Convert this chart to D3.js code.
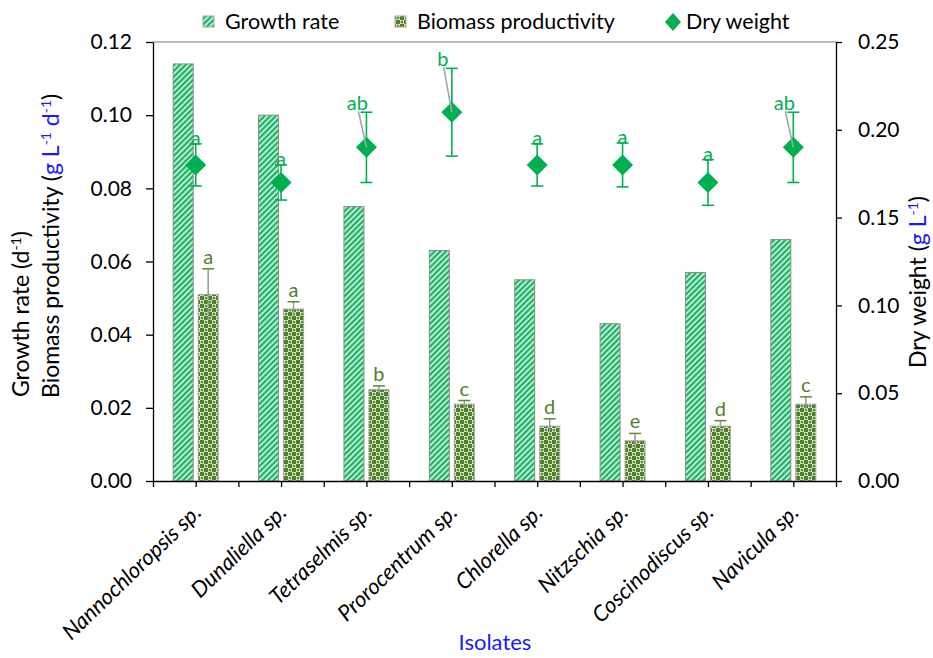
<!DOCTYPE html>
<html>
<head>
<meta charset="utf-8">
<script src="https://cdn.jsdelivr.net/npm/d3@7"></script>
<style>
  html, body { margin: 0; padding: 0; background: #fff; }
  svg { display: block; font-family: Lato, "Open Sans", sans-serif; }
</style>
</head>
<body>
<svg id="chart" width="933" height="658"></svg>
<script>
// Isolates and measured values
const categories = ["Nannochloropsis sp.", "Dunaliella sp.", "Tetraselmis sp.", "Prorocentrum sp.",
                    "Chlorella sp.", "Nitzschia sp.", "Coscinodiscus sp.", "Navicula sp."];
const growthRate = [0.114, 0.100, 0.075, 0.063, 0.055, 0.043, 0.057, 0.066];
const biomass = [0.051, 0.047, 0.025, 0.021, 0.015, 0.011, 0.015, 0.021];
const biomassErr = [0.007, 0.002, 0.001, 0.001, 0.002, 0.002, 0.0015, 0.002];
const biomassLetters = ["a", "a", "b", "c", "d", "e", "d", "c"];
const dryWeight = [0.18, 0.17, 0.19, 0.21, 0.18, 0.18, 0.17, 0.19];
const dryErr = [0.012, 0.010, 0.020, 0.025, 0.012, 0.0125, 0.013, 0.020];
const dryLetters = ["a", "a", "ab", "b", "a", "a", "a", "ab"];
const leftTicks = [0, 0.02, 0.04, 0.06, 0.08, 0.10, 0.12];
const rightTicks = [0, 0.05, 0.10, 0.15, 0.20, 0.25];
const seriesNames = ["Growth rate", "Biomass productivity", "Dry weight"];

const svg = d3.select("#chart");
const plot = { left: 153, right: 836, top: 42, bottom: 481 };

const GREEN = "#00b050";
const OLIVE = "#4f7f2b";
const BLUE = "#1a1aff";

// Fill patterns
const defs = svg.append("defs");
const stripes = defs.append("pattern")
  .attr("id", "stripes").attr("patternUnits", "userSpaceOnUse")
  .attr("width", 4).attr("height", 4)
  .attr("patternTransform", "rotate(45)");
stripes.append("rect").attr("width", 4).attr("height", 4).attr("fill", "#c8f1d8");
stripes.append("rect").attr("width", 2.2).attr("height", 4).attr("fill", "#1cb164");

const dots = defs.append("pattern")
  .attr("id", "dots").attr("patternUnits", "userSpaceOnUse")
  .attr("width", 8).attr("height", 8);
dots.append("rect").attr("width", 8).attr("height", 8).attr("fill", "#e9f6de");
dots.append("rect").attr("width", 4).attr("height", 4).attr("fill", OLIVE);
dots.append("rect").attr("x", 4).attr("y", 4).attr("width", 4).attr("height", 4).attr("fill", OLIVE);
dots.append("circle").attr("cx", 6).attr("cy", 2).attr("r", 1.5).attr("fill", "#5d8f36");
dots.append("circle").attr("cx", 2).attr("cy", 6).attr("r", 1.5).attr("fill", "#5d8f36");

// Scales
const x = d3.scaleBand().domain(categories).range([plot.left, plot.right]);
const inner = d3.scaleBand().domain(["growth", "biomass"]).range([-22.5, 22.5]).paddingInner(0.2);
const yL = d3.scaleLinear().domain([0, 0.12]).range([plot.bottom, plot.top]);
const yR = d3.scaleLinear().domain([0, 0.25]).range([plot.bottom, plot.top]);
const xHalf = d3.scaleLinear().domain([0, categories.length]).range([plot.left, plot.right]);
const cx = c => x(c) + x.bandwidth() / 2;

// Top frame line
svg.append("line")
  .attr("x1", plot.left).attr("x2", plot.right)
  .attr("y1", plot.top).attr("y2", plot.top)
  .attr("stroke", "#a6a6a6").attr("stroke-width", 1.5);

// Growth rate bars
svg.append("g").selectAll("rect").data(categories).join("rect")
  .attr("x", (c) => cx(c) + inner("growth"))
  .attr("width", inner.bandwidth())
  .attr("y", (c, i) => yL(growthRate[i]))
  .attr("height", (c, i) => yL(0) - yL(growthRate[i]))
  .attr("fill", "url(#stripes)")
  .attr("stroke", "#8c8c8c").attr("stroke-width", 1);

// Biomass productivity bars
svg.append("g").selectAll("rect").data(categories).join("rect")
  .attr("x", (c) => cx(c) + inner("biomass"))
  .attr("width", inner.bandwidth())
  .attr("y", (c, i) => yL(biomass[i]))
  .attr("height", (c, i) => yL(0) - yL(biomass[i]))
  .attr("fill", "url(#dots)")
  .attr("stroke", "#a6a6a6").attr("stroke-width", 1);

// Biomass error bars and letters
const bErr = svg.append("g");
categories.forEach((c, i) => {
  const bx = cx(c) + inner("biomass") + inner.bandwidth() / 2;
  const top = yL(biomass[i] + biomassErr[i]);
  const bot = yL(biomass[i] - biomassErr[i]);
  bErr.append("line").attr("x1", bx).attr("x2", bx).attr("y1", top).attr("y2", bot)
    .attr("stroke", "#9a9a9a").attr("stroke-width", 1.5);
  bErr.append("line").attr("x1", bx - 6).attr("x2", bx + 6).attr("y1", top).attr("y2", top)
    .attr("stroke", "#5a8a32").attr("stroke-width", 1.5);
  bErr.append("text").attr("x", bx).attr("y", top - 5)
    .attr("text-anchor", "middle").attr("font-size", 20).attr("fill", OLIVE)
    .text(biomassLetters[i]);
});

// Dry weight markers, error bars and letters
const dw = svg.append("g");
categories.forEach((c, i) => {
  const px = cx(c);
  const top = yR(dryWeight[i] + dryErr[i]);
  const bot = yR(dryWeight[i] - dryErr[i]);
  dw.append("line").attr("x1", px).attr("x2", px).attr("y1", top).attr("y2", bot)
    .attr("stroke", GREEN).attr("stroke-width", 1.6);
  [top, bot].forEach(v => dw.append("line")
    .attr("x1", px - 6).attr("x2", px + 6).attr("y1", v).attr("y2", v)
    .attr("stroke", GREEN).attr("stroke-width", 1.6));
  if (dryLetters[i] === "a") {
    dw.append("text").attr("x", px).attr("y", top + 1)
      .attr("text-anchor", "middle").attr("font-size", 20).attr("fill", GREEN).text(dryLetters[i]);
  }
});
// Diamonds drawn above the error bars
dw.append("g").selectAll("path").data(categories).join("path")
  .attr("transform", (c, i) => `translate(${cx(c)},${yR(dryWeight[i])})`)
  .attr("d", "M0,-10.5L10.5,0L0,10.5L-10.5,0Z")
  .attr("fill", GREEN);
// Shifted letters with leader lines
categories.forEach((c, i) => {
  const lab = dryLetters[i];
  if (lab === "a") return;
  const px = cx(c);
  const py = yR(dryWeight[i]);
  const top = yR(dryWeight[i] + dryErr[i]);
  const lx = px - 9, ly = top - 2;
  dw.append("line").attr("x1", lx + 1).attr("y1", ly + 1).attr("x2", px).attr("y2", py)
    .attr("stroke", "#a6a6a6").attr("stroke-width", 1.6);
  dw.append("text").attr("x", lx).attr("y", ly)
    .attr("text-anchor", "middle").attr("font-size", 20).attr("fill", GREEN).text(lab);
});

// Axes
const axisStyle = g => {
  g.select(".domain").attr("stroke", "#000").attr("stroke-width", 1.3);
  g.selectAll(".tick line").attr("stroke", "#000").attr("stroke-width", 1.3);
  g.selectAll(".tick text").attr("font-size", 21).attr("fill", "#000")
    .attr("font-family", "Lato, sans-serif");
};
svg.append("g").attr("transform", `translate(${plot.left},0)`)
  .call(d3.axisLeft(yL).tickValues(leftTicks).tickFormat(d3.format(".2f")).tickSize(7).tickSizeOuter(0).tickPadding(14))
  .call(axisStyle);
svg.append("g").attr("transform", `translate(${plot.right},0)`)
  .call(d3.axisRight(yR).tickValues(rightTicks).tickFormat(d3.format(".2f")).tickSize(6).tickSizeOuter(0).tickPadding(16))
  .call(axisStyle);
svg.append("g").attr("transform", `translate(0,${plot.bottom})`)
  .call(d3.axisBottom(xHalf).tickValues(d3.range(0, categories.length + 0.5, 0.5)).tickFormat("").tickSize(6).tickSizeOuter(0))
  .call(axisStyle);

// Category labels
svg.append("g").selectAll("text").data(categories).join("text")
  .attr("transform", c => `translate(${cx(c) + 7},${plot.bottom + 33}) rotate(-44)`)
  .attr("text-anchor", "end")
  .attr("font-size", 22).attr("font-style", "italic").attr("fill", "#000")
  .text(c => c);

// Axis titles
svg.append("text").attr("x", 495).attr("y", 650).attr("text-anchor", "middle")
  .attr("font-size", 22).attr("fill", BLUE).text("Isolates");

const t1 = svg.append("text").attr("transform", "translate(29,397) rotate(-90)")
  .attr("font-size", 23).attr("fill", "#000");
t1.append("tspan").text("Growth rate (d");
t1.append("tspan").attr("baseline-shift", "super").attr("font-size", 14).text("-1");
t1.append("tspan").text(")");

const t2 = svg.append("text").attr("transform", "translate(59,398) rotate(-90)")
  .attr("font-size", 23).attr("fill", "#000");
t2.append("tspan").text("Biomass productivity (");
t2.append("tspan").attr("fill", BLUE).text("g L");
t2.append("tspan").attr("fill", BLUE).attr("baseline-shift", "super").attr("font-size", 14).text("-1");
t2.append("tspan").attr("fill", BLUE).text(" d");
t2.append("tspan").attr("fill", BLUE).attr("baseline-shift", "super").attr("font-size", 14).text("-1");
t2.append("tspan").text(")");

const t3 = svg.append("text").attr("transform", "translate(926,368) rotate(-90)")
  .attr("font-size", 23).attr("fill", "#000");
t3.append("tspan").text("Dry weight (");
t3.append("tspan").attr("fill", BLUE).text("g L");
t3.append("tspan").attr("fill", BLUE).attr("baseline-shift", "super").attr("font-size", 14).text("-1");
t3.append("tspan").text(")");

// Legend
const legend = svg.append("g").attr("font-size", 21.5).attr("fill", "#000");
const legendItems = [
  { name: seriesNames[0], x: 203, kind: "stripes" },
  { name: seriesNames[1], x: 395, kind: "dots" },
  { name: seriesNames[2], x: 664, kind: "diamond" }
];
legendItems.forEach(it => {
  if (it.kind === "diamond") {
    legend.append("path").attr("transform", `translate(${it.x + 9},22)`)
      .attr("d", "M0,-9L8,0L0,9L-8,0Z").attr("fill", GREEN);
  } else {
    legend.append("rect").attr("x", it.x).attr("y", 16).attr("width", 11).attr("height", 11)
      .attr("fill", `url(#${it.kind})`).attr("stroke", "#a6a6a6").attr("stroke-width", 1);
  }
  legend.append("text").attr("x", it.x + 22).attr("y", 29).text(it.name);
});
</script>
</body>
</html>
